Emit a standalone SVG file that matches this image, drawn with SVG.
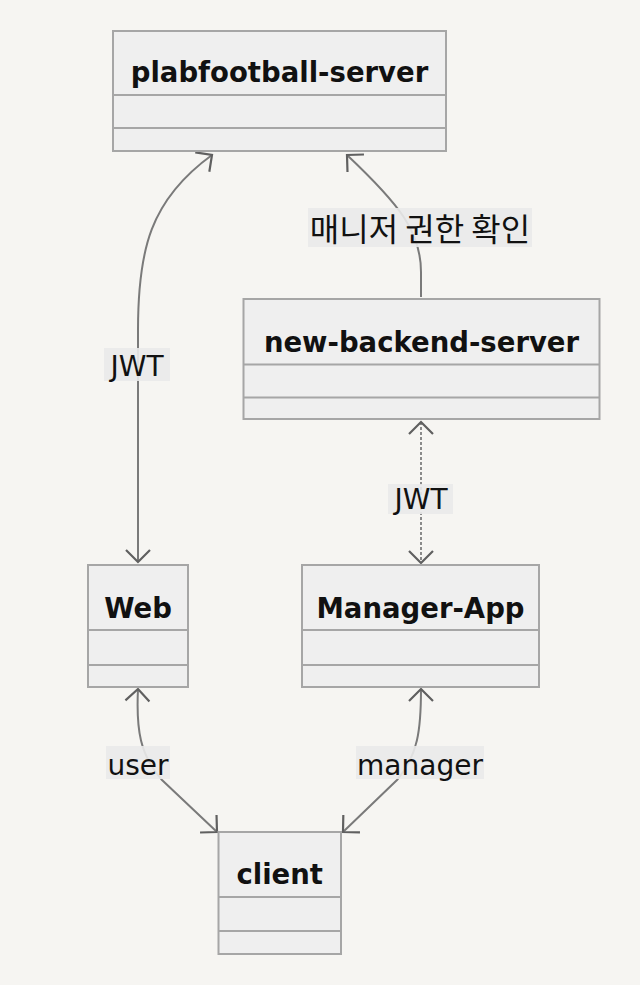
<svg xmlns="http://www.w3.org/2000/svg" width="640" height="985" viewBox="0 0 640 985">
<defs>
<style>
.node rect{fill:#efefef;stroke:#a6a6a6;stroke-width:2}
.node line{stroke:#a6a6a6;stroke-width:2}
.title{font-family:"DejaVu Sans",sans-serif;font-weight:bold;font-size:27.5px;fill:#111;text-anchor:middle}
.edge{fill:none;stroke:#7a7a7a;stroke-width:2}
.dash{stroke:#8a8a8a;stroke-dasharray:3 2}
.lbg{fill:#eaeaea;opacity:0.9}
.lbl{font-family:"DejaVu Sans",sans-serif;font-size:28px;fill:#111;text-anchor:middle}
.klbl{font-family:"Noto Sans CJK KR",sans-serif;font-size:32px;fill:#111;text-anchor:middle}
</style>
<marker id="arr" viewBox="0 0 30 30" refX="15" refY="15" markerWidth="30" markerHeight="30" markerUnits="userSpaceOnUse" orient="auto-start-reverse">
<path d="M 3 3 L 15 15 L 3 27" fill="none" stroke="#606060" stroke-width="2.2"/>
</marker>
</defs>
<rect width="640" height="985" fill="#f6f5f2"/>

<g id="connectors">
<path class="edge" d="M 138 562 L 138 330 C 138 250 150 200 212 155" marker-start="url(#arr)" marker-end="url(#arr)"/>
<path class="edge" d="M 421 297 L 421 272 C 421 232 400 205 347 155" marker-end="url(#arr)"/>
<path class="edge dash" d="M 421 422 L 421 563" marker-start="url(#arr)" marker-end="url(#arr)"/>
<path class="edge" d="M 138 689 C 136 730 140 755 162 780 L 217 832" marker-start="url(#arr)" marker-end="url(#arr)"/>
<path class="edge" d="M 421 689 C 421 730 418 755 397 780 L 343 832" marker-start="url(#arr)" marker-end="url(#arr)"/>
</g>

<g id="labels">
<rect class="lbg" x="104" y="348" width="66" height="33"/>
<text class="lbl" x="137" y="376">JWT</text>
<rect class="lbg" x="308" y="208" width="224" height="39"/>
<text class="klbl" x="420" y="241">매니저 권한 확인</text>
<rect class="lbg" x="388" y="484" width="65" height="30"/>
<text class="lbl" x="421" y="509">JWT</text>
<rect class="lbg" x="106" y="746" width="64" height="33"/>
<text class="lbl" x="138" y="775">user</text>
<rect class="lbg" x="356" y="746" width="128" height="33"/>
<text class="lbl" x="420" y="775">manager</text>
</g>

<g id="plabfootball-server" class="node">
<rect x="113" y="31" width="333" height="120"/>
<line x1="113" y1="95" x2="446" y2="95"/>
<line x1="113" y1="128" x2="446" y2="128"/>
<text class="title" x="279.5" y="82">plabfootball-server</text>
</g>

<g id="new-backend-server" class="node">
<rect x="243.5" y="299" width="356" height="120"/>
<line x1="243.5" y1="364.5" x2="599.5" y2="364.5"/>
<line x1="243.5" y1="397.5" x2="599.5" y2="397.5"/>
<text class="title" x="421.5" y="352">new-backend-server</text>
</g>

<g id="Web" class="node">
<rect x="88" y="565" width="100" height="122"/>
<line x1="88" y1="630" x2="188" y2="630"/>
<line x1="88" y1="665" x2="188" y2="665"/>
<text class="title" x="138" y="618">Web</text>
</g>

<g id="Manager-App" class="node">
<rect x="302" y="565" width="237" height="122"/>
<line x1="302" y1="630" x2="539" y2="630"/>
<line x1="302" y1="665" x2="539" y2="665"/>
<text class="title" x="420.5" y="618">Manager-App</text>
</g>

<g id="client" class="node">
<rect x="218.5" y="832" width="122.5" height="122"/>
<line x1="218.5" y1="897" x2="341" y2="897"/>
<line x1="218.5" y1="931" x2="341" y2="931"/>
<text class="title" x="279.7" y="884">client</text>
</g>
</svg>
